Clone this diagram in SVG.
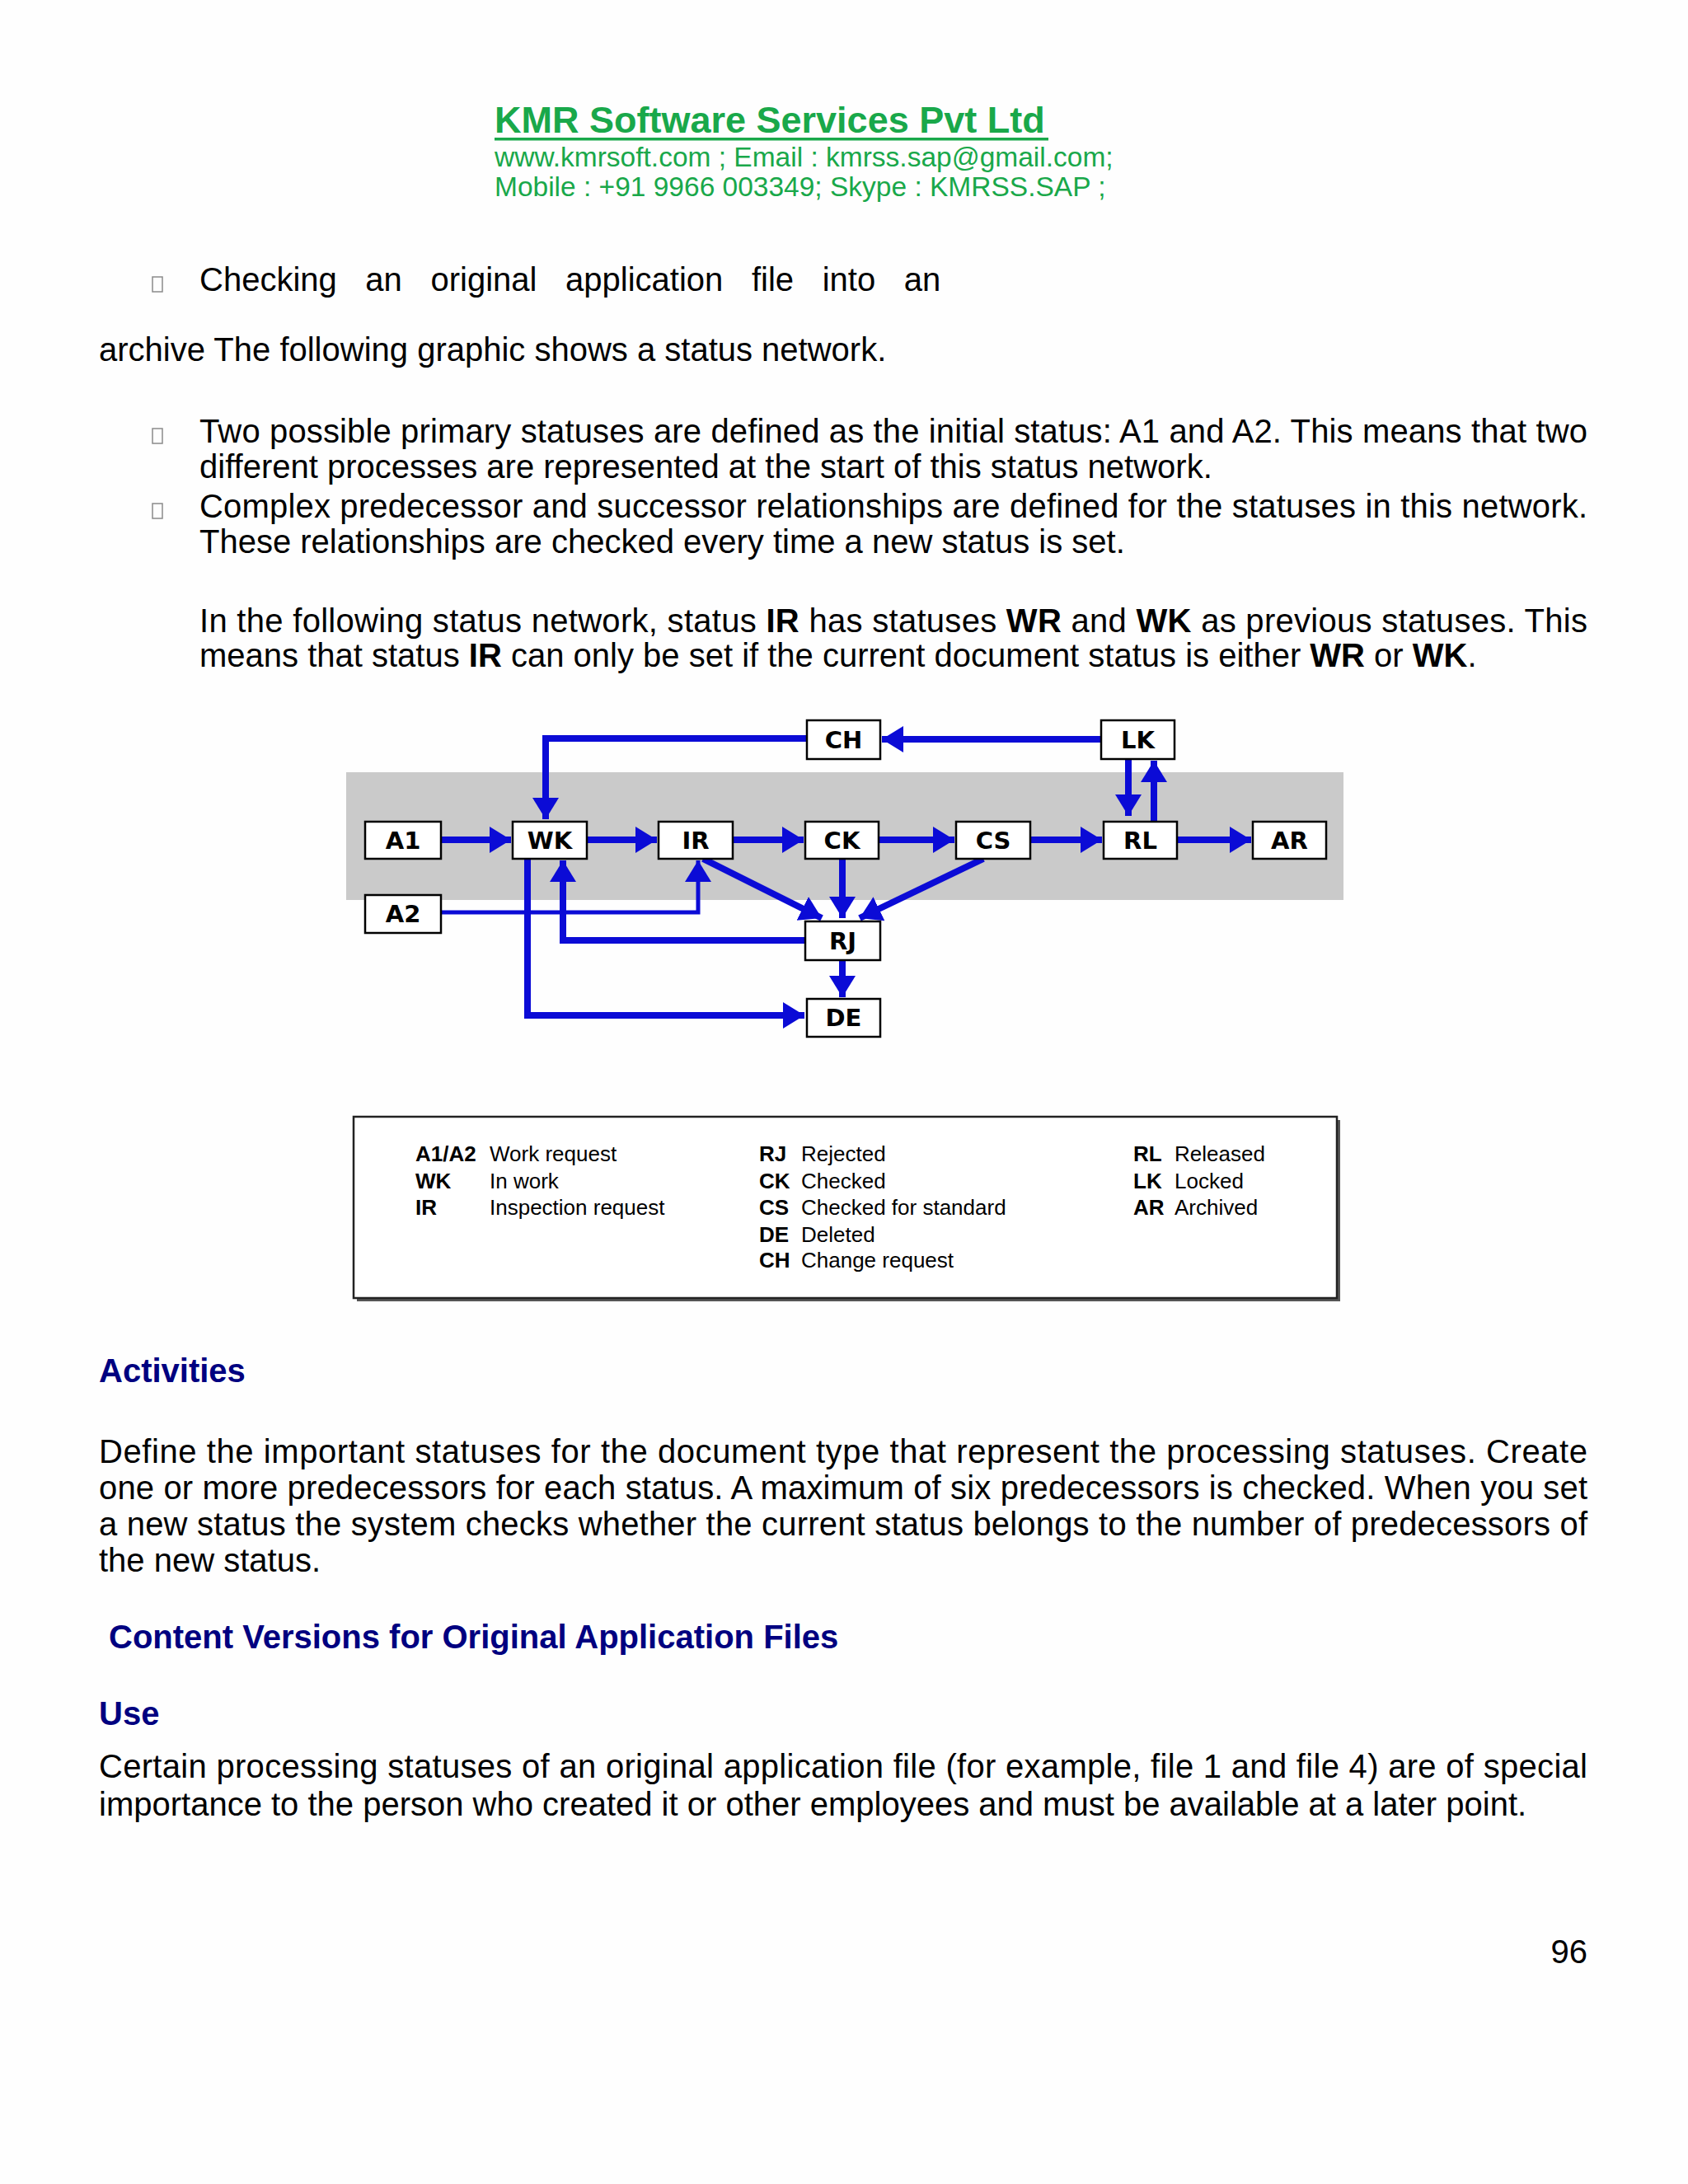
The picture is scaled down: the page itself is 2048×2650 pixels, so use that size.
<svg xmlns="http://www.w3.org/2000/svg" width="2048" height="2650" viewBox="0 0 2048 2650">
<defs>
<style>
.body{font-family:"Liberation Sans",Arial,sans-serif;font-size:40px;fill:#000}
.b{font-weight:bold}
.head{font-family:"Liberation Sans",Arial,sans-serif;font-size:40px;font-weight:bold;fill:#000080}
.green{font-family:"Liberation Sans",Arial,sans-serif;fill:#19a84a}
.node rect{fill:#fff;stroke:#000;stroke-width:2.5}
.node text{font-family:"DejaVu Sans",Verdana,sans-serif;font-weight:bold;font-size:29px;text-anchor:middle;fill:#000}
.conn{fill:none;stroke:#0b0bd6;stroke-width:8;marker-end:url(#ah)}
.thin{stroke-width:5}
.leg{font-family:"Liberation Sans",Arial,sans-serif;font-size:26px;fill:#000}
.bul{fill:none;stroke:#8a8a8a;stroke-width:1.5}
</style>
<marker id="ah" markerUnits="userSpaceOnUse" markerWidth="30" markerHeight="34" refX="26" refY="16" orient="auto">
<path d="M0,0 L26,16 L0,32 z" fill="#0b0bd6"/>
</marker>
</defs>
<rect x="0" y="0" width="2048" height="2650" fill="#fefefe"/>

<!-- header -->
<text class="green b" x="600" y="161" font-size="45">KMR Software Services Pvt Ltd</text>
<rect x="600" y="167" width="672" height="3.5" fill="#19a84a"/>
<text class="green" x="600" y="202" font-size="33.5">www.kmrsoft.com ; Email : kmrss.sap@gmail.com;</text>
<text class="green" x="600" y="238" font-size="33.5">Mobile : +91 9966 003349; Skype : KMRSS.SAP ;</text>

<!-- body top -->
<rect class="bul" x="185" y="336" width="12" height="18"/>
<text class="body" x="242" y="353" word-spacing="23.5">Checking an original application file into an</text>
<text class="body" x="120" y="438">archive The following graphic shows a status network.</text>
<rect class="bul" x="185" y="520" width="12" height="18"/>
<text class="body" x="242" y="537" textLength="1684" lengthAdjust="spacing">Two possible primary statuses are defined as the initial status: A1 and A2. This means that two</text>
<text class="body" x="242" y="580">different processes are represented at the start of this status network.</text>
<rect class="bul" x="185" y="611" width="12" height="18"/>
<text class="body" x="242" y="628" textLength="1684" lengthAdjust="spacing">Complex predecessor and successor relationships are defined for the statuses in this network.</text>
<text class="body" x="242" y="671">These relationships are checked every time a new status is set.</text>
<text class="body" x="242" y="767" textLength="1684" lengthAdjust="spacing">In the following status network, status <tspan class="b">IR</tspan> has statuses <tspan class="b">WR</tspan> and <tspan class="b">WK</tspan> as previous statuses. This</text>
<text class="body" x="242" y="809">means that status <tspan class="b">IR</tspan> can only be set if the current document status is either <tspan class="b">WR</tspan> or <tspan class="b">WK</tspan>.</text>

<!-- diagram background band -->
<rect x="420" y="937" width="1210" height="155" fill="#cacaca"/>

<g id="connectors">
<path class="conn" d="M535,1019 H620"/>
<path class="conn" d="M712,1019 H797"/>
<path class="conn" d="M889,1019 H975"/>
<path class="conn" d="M1066,1019 H1158"/>
<path class="conn" d="M1250,1019 H1337"/>
<path class="conn" d="M1428,1019 H1518"/>
<path class="conn" d="M1336,897 H1070"/>
<path class="conn" d="M979,896 H662 V994"/>
<path class="conn" d="M1369,921 V990"/>
<path class="conn" d="M1400,997 V923"/>
<path class="conn" d="M853,1042 L997,1114"/>
<path class="conn" d="M1022,1042 V1114"/>
<path class="conn" d="M1193,1042 L1043,1114"/>
<path class="conn thin" d="M535,1107 H847 V1044"/>
<path class="conn" d="M977,1141 H683 V1044"/>
<path class="conn" d="M640,1042 V1232 H976"/>
<path class="conn" d="M1022,1165 V1210"/>
</g>

<g id="node-CH" class="node"><rect x="979" y="874" width="89" height="47"/><text x="1023.5" y="908">CH</text></g>
<g id="node-LK" class="node"><rect x="1336" y="874" width="89" height="47"/><text x="1380.5" y="908">LK</text></g>
<g id="node-A1" class="node"><rect x="443" y="997" width="92" height="45"/><text x="489" y="1030">A1</text></g>
<g id="node-WK" class="node"><rect x="622" y="997" width="90" height="45"/><text x="667" y="1030">WK</text></g>
<g id="node-IR" class="node"><rect x="799" y="997" width="90" height="45"/><text x="844" y="1030">IR</text></g>
<g id="node-CK" class="node"><rect x="977" y="997" width="89" height="45"/><text x="1021.5" y="1030">CK</text></g>
<g id="node-CS" class="node"><rect x="1160" y="997" width="90" height="45"/><text x="1205" y="1030">CS</text></g>
<g id="node-RL" class="node"><rect x="1339" y="997" width="89" height="45"/><text x="1383.5" y="1030">RL</text></g>
<g id="node-AR" class="node"><rect x="1520" y="997" width="89" height="45"/><text x="1564.5" y="1030">AR</text></g>
<g id="node-A2" class="node"><rect x="443" y="1086" width="92" height="46"/><text x="489" y="1119">A2</text></g>
<g id="node-RJ" class="node"><rect x="977" y="1118" width="91" height="47"/><text x="1022.5" y="1152">RJ</text></g>
<g id="node-DE" class="node"><rect x="979" y="1212" width="89" height="46"/><text x="1023.5" y="1245">DE</text></g>

<!-- legend -->
<g id="legend">
<rect x="433" y="1359" width="1193" height="220" fill="#555"/>
<rect x="429" y="1355" width="1193" height="220" fill="#fff" stroke="#222" stroke-width="2.5"/>
<text class="leg" y="1409"><tspan class="b" x="504">A1/A2</tspan><tspan x="594">Work request</tspan></text>
<text class="leg" y="1442"><tspan class="b" x="504">WK</tspan><tspan x="594">In work</tspan></text>
<text class="leg" y="1474"><tspan class="b" x="504">IR</tspan><tspan x="594">Inspection request</tspan></text>
<text class="leg" y="1409"><tspan class="b" x="921">RJ</tspan><tspan x="972">Rejected</tspan></text>
<text class="leg" y="1442"><tspan class="b" x="921">CK</tspan><tspan x="972">Checked</tspan></text>
<text class="leg" y="1474"><tspan class="b" x="921">CS</tspan><tspan x="972">Checked for standard</tspan></text>
<text class="leg" y="1507"><tspan class="b" x="921">DE</tspan><tspan x="972">Deleted</tspan></text>
<text class="leg" y="1538"><tspan class="b" x="921">CH</tspan><tspan x="972">Change request</tspan></text>
<text class="leg" y="1409"><tspan class="b" x="1375">RL</tspan><tspan x="1425">Released</tspan></text>
<text class="leg" y="1442"><tspan class="b" x="1375">LK</tspan><tspan x="1425">Locked</tspan></text>
<text class="leg" y="1474"><tspan class="b" x="1375">AR</tspan><tspan x="1425">Archived</tspan></text>
</g>

<!-- lower body -->
<text class="head" x="120" y="1677">Activities</text>
<text class="body" x="120" y="1775" textLength="1806" lengthAdjust="spacing">Define the important statuses for the document type that represent the processing statuses. Create</text>
<text class="body" x="120" y="1819" textLength="1806" lengthAdjust="spacing">one or more predecessors for each status. A maximum of six predecessors is checked. When you set</text>
<text class="body" x="120" y="1863" textLength="1806" lengthAdjust="spacing">a new status the system checks whether the current status belongs to the number of predecessors of</text>
<text class="body" x="120" y="1907">the new status.</text>
<text class="head" x="132" y="2000">Content Versions for Original Application Files</text>
<text class="head" x="120" y="2093">Use</text>
<text class="body" x="120" y="2157" textLength="1806" lengthAdjust="spacing">Certain processing statuses of an original application file (for example, file 1 and file 4) are of special</text>
<text class="body" x="120" y="2203">importance to the person who created it or other employees and must be available at a later point.</text>
<text class="body" x="1926" y="2382" font-size="29" text-anchor="end">96</text>
</svg>
